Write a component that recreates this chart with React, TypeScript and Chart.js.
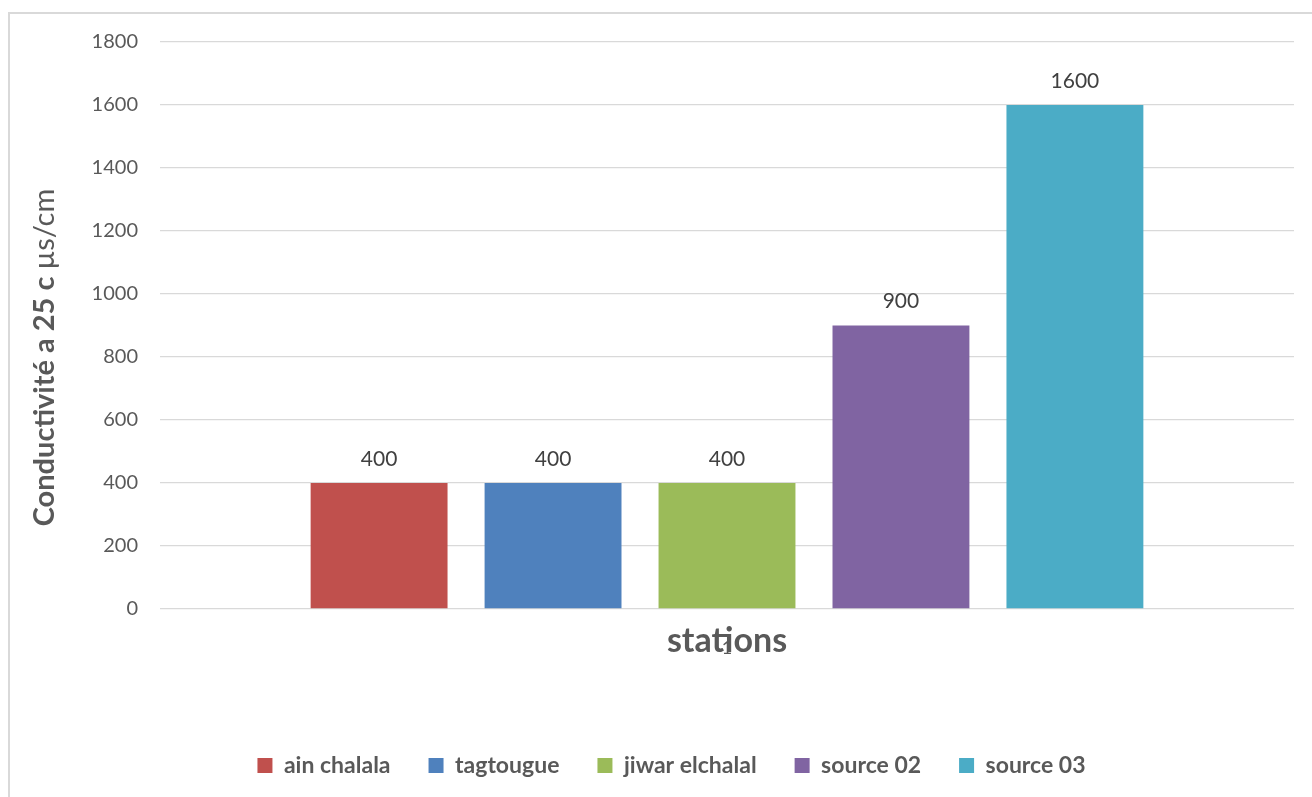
import React, { useEffect, useRef } from "react";
import { Chart, registerables } from "chart.js";

Chart.register(...registerables);

const categories = ["1"];
const seriesNames = ["ain chalala", "tagtougue", "jiwar elchalal", "source 02", "source 03"];
const seriesValues = [400, 400, 400, 900, 1600];
const seriesColors = ["#c0504d", "#4f81bd", "#9bbb59", "#8064a2", "#4bacc6"];
const yMin = 0;
const yMax = 1800;
const yStep = 200;
const yAxisTitleBold = "Conductivité a 25 c ";
const yAxisTitleNormal = "µs/cm";
const xAxisTitle = "stations";

const FONT = "Lato";
const TEXT = "#595959";

const dataLabelPlugin = {
  id: "dataLabels",
  afterDatasetsDraw(chart: any) {
    const ctx = chart.ctx;
    ctx.save();
    ctx.font = `21px ${FONT}`;
    ctx.fillStyle = "#404040";
    ctx.textAlign = "center";
    ctx.textBaseline = "middle";
    chart.data.datasets.forEach((ds: any, i: number) => {
      const meta = chart.getDatasetMeta(i);
      meta.data.forEach((el: any, j: number) => {
        ctx.fillText(String(ds.data[j]), el.x, el.y - 24);
      });
    });
    ctx.restore();
  },
};

const yTitlePlugin = {
  id: "yTitleMixed",
  afterDraw(chart: any) {
    const ctx = chart.ctx;
    const area = chart.chartArea;
    ctx.save();
    const boldFont = `bold 29px ${FONT}`;
    const normFont = `29px ${FONT}`;
    ctx.font = boldFont;
    const wb = ctx.measureText(yAxisTitleBold).width;
    ctx.font = normFont;
    const wn = ctx.measureText(yAxisTitleNormal).width;
    const total = wb + wn;
    const cy = (area.top + area.bottom) / 2 + 32;
    ctx.translate(45, cy);
    ctx.rotate(-Math.PI / 2);
    ctx.fillStyle = TEXT;
    ctx.textBaseline = "middle";
    ctx.textAlign = "left";
    ctx.font = boldFont;
    ctx.fillText(yAxisTitleBold, -total / 2, 0);
    ctx.font = normFont;
    ctx.fillText(yAxisTitleNormal, -total / 2 + wb, 0);
    ctx.restore();
  },
};

export default function App() {
  const ref = useRef<HTMLCanvasElement | null>(null);

  useEffect(() => {
    if (!ref.current) return;
    const chart = new Chart(ref.current, {
      type: "bar",
      data: {
        labels: categories,
        datasets: seriesNames.map((name, i) => ({
          label: name,
          data: [seriesValues[i]],
          backgroundColor: seriesColors[i],
          borderWidth: 0,
          categoryPercentage: 0.767,
          barPercentage: 0.787,
        })),
      },
      options: {
        responsive: false,
        animation: false,
        layout: { padding: { top: 42, right: 18, bottom: 10, left: 49 } },
        plugins: {
          tooltip: { enabled: false },
          legend: {
            position: "bottom",
            labels: {
              boxWidth: 15,
              boxHeight: 15,
              padding: 38,
              color: TEXT,
              font: { family: FONT, size: 23, weight: "bold" },
            },
          },
        },
        scales: {
          x: {
            grid: { display: false },
            border: { display: false },
            ticks: { color: TEXT, font: { family: FONT, size: 18 }, padding: 20 },
            title: {
              display: true,
              text: xAxisTitle,
              color: TEXT,
              font: { family: FONT, size: 34, weight: "bold" },
              padding: { top: 0, bottom: 55 },
            },
            afterFit(scale: any) {
              scale.height = 107;
            },
          },
          y: {
            min: yMin,
            max: yMax,
            ticks: {
              stepSize: yStep,
              color: TEXT,
              font: { family: FONT, size: 20 },
              padding: 22,
              callback: (v: any) => String(v),
            },
            grid: { color: "#d9d9d9", lineWidth: 1.3, drawTicks: false },
            border: { display: false },
            afterFit(scale: any) {
              scale.width = 111;
            },
          },
        },
      },
      plugins: [dataLabelPlugin, yTitlePlugin],
    } as any);
    return () => chart.destroy();
  }, []);

  return (
    <div style={{ position: "absolute", left: 0, top: 0, width: 1312, height: 797, background: "#fff" }}>
      <div
        style={{
          position: "absolute",
          left: 8,
          top: 12,
          width: 1304,
          height: 785,
          borderLeft: "2px solid #d9d9d9",
          borderTop: "2px solid #d9d9d9",
          boxSizing: "border-box",
        }}
      />
      <canvas ref={ref} width={1312} height={797} style={{ position: "absolute", left: 0, top: 0 }} />
    </div>
  );
}
